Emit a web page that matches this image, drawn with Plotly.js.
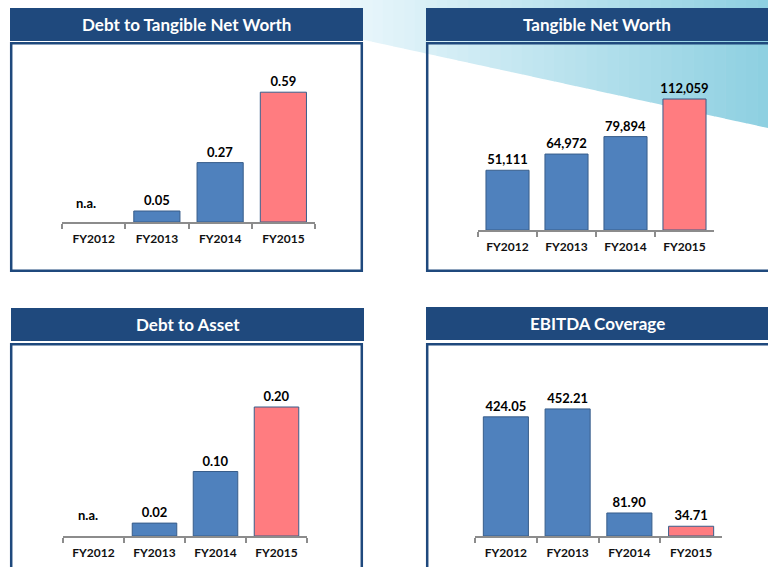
<!DOCTYPE html>
<html>
<head>
<meta charset="utf-8">
<script src="https://cdn.plot.ly/plotly-3.0.1.min.js"></script>
<style>html,body{margin:0;padding:0;background:#fff;}#chart{width:768px;height:567px;}</style>
</head>
<body>
<div id="chart"></div>
<script>
// ---- data ----
const categories = ['FY2012', 'FY2013', 'FY2014', 'FY2015'];
const debtToTnw = [null, 0.05, 0.27, 0.59];
const tangibleNetWorth = [51111, 64972, 79894, 112059];
const debtToAsset = [null, 0.02, 0.10, 0.20];
const ebitdaCoverage = [424.05, 452.21, 81.90, 34.71];
const panelTitles = ['Debt to Tangible Net Worth', 'Tangible Net Worth', 'Debt to Asset', 'EBITDA Coverage'];
const naLabel = 'n.a.';

// ---- style ----
const W = 768, H = 567;
const FONT = 'Lato, "Open Sans", sans-serif';
const NAVY = '#1f497d';
const barColors = ['#4f81bd', '#4f81bd', '#4f81bd', '#ff7c80'];
const px = v => v / W;
const py = v => 1 - v / H;

function barTrace(vals, xa, ya, fmt) {
  return {
    type: 'bar', x: categories, y: vals, xaxis: xa, yaxis: ya,
    marker: {color: barColors, line: {color: '#385d8a', width: 1}},
    text: vals.map(v => v == null ? '' : fmt(v)),
    textposition: 'outside', cliponaxis: false, constraintext: 'none',
    textfont: {family: FONT, size: 13, color: '#000', weight: 'bold'},
    width: 0.73, hoverinfo: 'none', showlegend: false
  };
}
const fix2 = v => v.toFixed(2);
const comma = v => v.toLocaleString('en-US');

const data = [
  barTrace(debtToTnw, 'x', 'y', fix2),
  barTrace(tangibleNetWorth, 'x2', 'y2', comma),
  barTrace(debtToAsset, 'x3', 'y3', fix2),
  barTrace(ebitdaCoverage, 'x4', 'y4', fix2)
];

function xax(l, r, anchor) {
  return {
    domain: [px(l), px(r)], anchor: anchor, type: 'category', range: [-0.5, 3.5], fixedrange: true,
    showline: true, linecolor: '#8c8c8c', linewidth: 2,
    ticks: 'outside', tickson: 'boundaries', ticklen: 5, tickwidth: 2, tickcolor: '#8c8c8c',
    ticklabelstandoff: 5,
    showgrid: false, zeroline: false,
    tickfont: {family: FONT, size: 12, color: '#111', weight: 'bold'}
  };
}
function yax(base, top, scale, anchor) {
  return {
    domain: [py(base), py(top)], anchor: anchor, range: [0, (base - top) / scale],
    visible: false, fixedrange: true, showgrid: false, zeroline: false
  };
}

const shapes = [];
// light blue background band (gradient built from strips)
const bandL = 340, bandR = 768, N = 40;
const c0 = [236, 248, 252], c1 = [141, 207, 225];
const edge = x => 38 + (x - 355) * (90 / 413);
for (let i = 0; i < N; i++) {
  const xa = bandL + (bandR - bandL) * i / N;
  const xb = bandL + (bandR - bandL) * (i + 1) / N + 0.6;
  const t = (i + 0.5) / N;
  const c = c0.map((a, k) => Math.round(a + (c1[k] - a) * t));
  shapes.push({
    type: 'path', xref: 'paper', yref: 'paper', layer: 'below',
    path: `M${px(xa)},${py(0)} L${px(xb)},${py(0)} L${px(xb)},${py(edge(xb))} L${px(xa)},${py(edge(xa))} Z`,
    fillcolor: `rgb(${c.join(',')})`, line: {width: 0}
  });
}
// headers
const headers = [[10, 363, 8, 41], [426, 768, 8, 41], [11, 364, 308, 341], [426, 768, 307, 340]];
headers.forEach(h => shapes.push({
  type: 'rect', xref: 'paper', yref: 'paper', layer: 'below',
  x0: px(h[0]), x1: px(h[1]), y0: py(h[2]), y1: py(h[3]),
  fillcolor: NAVY, line: {width: 0}
}));
// boxes
const boxes = [[11.2, 361.8, 43.3, 270.7], [427.2, 772, 43.3, 270.7], [11.2, 361.8, 344.3, 580], [427.2, 772, 344.3, 580]];
boxes.forEach(b => shapes.push({
  type: 'rect', xref: 'paper', yref: 'paper', layer: 'below',
  x0: px(b[0]), x1: px(b[1]), y0: py(b[2]), y1: py(b[3]),
  fillcolor: 'rgba(0,0,0,0)', line: {color: NAVY, width: 2.5}
}));

const annotations = headers.map((h, i) => ({
  xref: 'paper', yref: 'paper', x: px((h[0] + h[1]) / 2), y: py((h[2] + h[3]) / 2),
  xanchor: 'center', yanchor: 'middle', showarrow: false, text: panelTitles[i],
  font: {family: FONT, size: 17, color: '#fff', weight: 'bold'}
}));
// n.a. labels for missing values
[[debtToTnw, 'x', 'y', 9, -8], [debtToAsset, 'x3', 'y3', 11, -6]].forEach(([vals, xa, ya, ys, xs]) => {
  vals.forEach((v, i) => {
    if (v == null) annotations.push({
      xref: xa, yref: ya, x: categories[i], y: 0, yanchor: 'bottom', xanchor: 'center',
      yshift: ys, xshift: xs, showarrow: false, text: naLabel,
      font: {family: FONT, size: 13, color: '#000', weight: 'bold'}
    });
  });
});

const layout = {
  width: W, height: H, margin: {l: 0, r: 0, t: 0, b: 0},
  paper_bgcolor: '#fff', plot_bgcolor: 'rgba(0,0,0,0)',
  showlegend: false, bargap: 0.27,
  xaxis: xax(62, 315, 'y'), yaxis: yax(222, 52, 220, 'x'),
  xaxis2: xax(478, 714, 'y2'), yaxis2: yax(230, 52, 0.001169, 'x2'),
  xaxis3: xax(63, 307, 'y3'), yaxis3: yax(536, 360, 645, 'x3'),
  xaxis4: xax(475, 722, 'y4'), yaxis4: yax(536, 360, 0.281, 'x4'),
  shapes: shapes, annotations: annotations
};

Plotly.newPlot('chart', data, layout, {displayModeBar: false, staticPlot: true});
</script>
</body>
</html>
